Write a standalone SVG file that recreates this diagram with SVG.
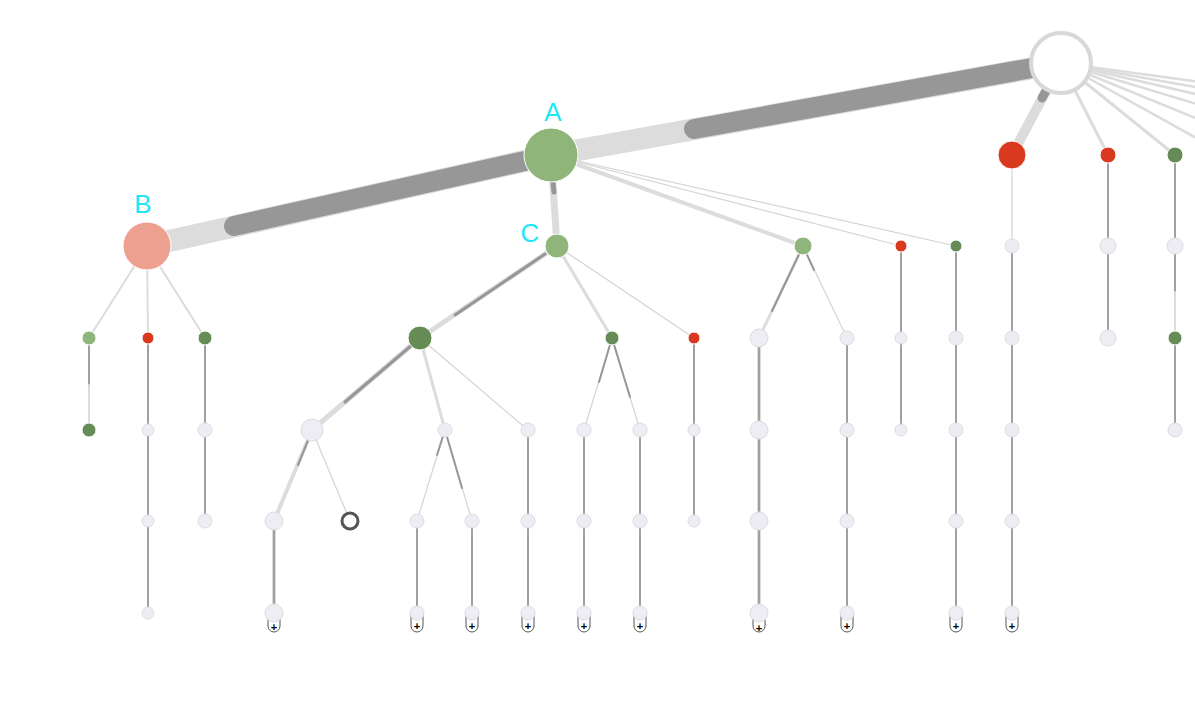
<svg xmlns="http://www.w3.org/2000/svg" width="1195" height="708" viewBox="0 0 1195 708">
<style>
.lt{stroke:#dcdcdc;fill:none;stroke-linecap:round}
.dk{stroke:#979797;fill:none;stroke-linecap:round}
.v{stroke:#a0a0a0;stroke-width:2;fill:none}
.th{stroke:#d4d4d4;stroke-width:1.2;fill:none}
.g{fill:#eeedf4;stroke:#dcdce4;stroke-width:1}
.lg{fill:#8fb57a;stroke:#fff;stroke-width:1}
.dg{fill:#668c55;stroke:#fff;stroke-width:1}
.rd{fill:#d9391f;stroke:#fff;stroke-width:1}
.pl{fill:#fff;stroke:#555;stroke-width:1}
.pt{font-family:"Liberation Sans",sans-serif;font-size:11px;font-weight:bold;fill:#000;text-anchor:middle}
.lab{font-family:"Liberation Sans",sans-serif;font-size:26px;fill:#1ee6f5;text-anchor:middle}
</style>
<g id="connectors">
<line class="lt" x1="1061" y1="63" x2="551" y2="155" stroke-width="22"/>
<line class="dk" x1="694" y1="129" x2="1032" y2="68" stroke-width="20"/>
<line class="lt" x1="551" y1="155" x2="147" y2="246" stroke-width="22"/>
<line class="dk" x1="234" y1="226" x2="525" y2="161" stroke-width="20"/>
<line class="lt" x1="1061" y1="63" x2="1012" y2="155" stroke-width="10"/>
<line class="dk" x1="1047" y1="89" x2="1042" y2="98" stroke-width="9"/>
<line class="lt" x1="1061" y1="63" x2="1108" y2="155" stroke-width="3"/>
<line class="lt" x1="1061" y1="63" x2="1175" y2="155" stroke-width="3"/>
<line class="lt" x1="1061" y1="63" x2="1200" y2="140" stroke-width="2.5"/>
<line class="lt" x1="1061" y1="63" x2="1200" y2="120" stroke-width="2.5"/>
<line class="lt" x1="1061" y1="63" x2="1200" y2="105" stroke-width="2.5"/>
<line class="lt" x1="1061" y1="63" x2="1200" y2="95" stroke-width="2.5"/>
<line class="lt" x1="1061" y1="63" x2="1200" y2="88" stroke-width="2.5"/>
<line class="lt" x1="1061" y1="63" x2="1200" y2="82" stroke-width="2.5"/>
<line class="lt" x1="551" y1="155" x2="557" y2="246" stroke-width="7"/>
<line class="dk" x1="553" y1="183" x2="554" y2="192" stroke-width="5"/>
<line class="lt" x1="551" y1="155" x2="803" y2="246" stroke-width="4"/>
<line class="th" x1="551" y1="155" x2="901" y2="246"/>
<line class="th" x1="551" y1="155" x2="956" y2="246"/>
<line class="lt" x1="147" y1="246" x2="89" y2="338" stroke-width="2"/>
<line class="lt" x1="147" y1="246" x2="148" y2="338" stroke-width="2"/>
<line class="lt" x1="147" y1="246" x2="205" y2="338" stroke-width="2"/>
<line class="v" x1="89" y1="338" x2="89" y2="385"/>
<line class="lt" x1="89" y1="385" x2="89" y2="430" stroke-width="2"/>
<line class="v" x1="148" y1="338" x2="148" y2="613"/>
<line class="v" x1="205" y1="338" x2="205" y2="521"/>
<line class="lt" x1="557" y1="246" x2="420" y2="338" stroke-width="5"/>
<line class="dk" x1="455" y1="315" x2="545" y2="254" stroke-width="3"/>
<line class="lt" x1="557" y1="246" x2="612" y2="338" stroke-width="3"/>
<line class="th" x1="557" y1="246" x2="694" y2="338"/>
<line class="lt" x1="420" y1="338" x2="312" y2="430" stroke-width="5"/>
<line class="dk" x1="345" y1="402" x2="412" y2="345" stroke-width="3"/>
<line class="lt" x1="420" y1="338" x2="445" y2="430" stroke-width="3"/>
<line class="th" x1="420" y1="338" x2="528" y2="430"/>
<line class="lt" x1="312" y1="430" x2="274" y2="521" stroke-width="4"/>
<line class="dk" x1="298" y1="465" x2="309" y2="438" stroke-width="2"/>
<line class="th" x1="312" y1="430" x2="350" y2="521" stroke="#bbb"/>
<line class="lt" x1="274" y1="521" x2="274" y2="613" stroke-width="4"/>
<line class="v" x1="274" y1="521" x2="274" y2="613"/>
<line class="th" x1="445" y1="430" x2="417" y2="521"/>
<line class="dk" x1="445" y1="430" x2="437" y2="455" stroke-width="2"/>
<line class="th" x1="445" y1="430" x2="472" y2="521"/>
<line class="dk" x1="445" y1="430" x2="462" y2="488" stroke-width="2"/>
<line class="v" x1="417" y1="521" x2="417" y2="613"/>
<line class="v" x1="472" y1="521" x2="472" y2="613"/>
<line class="v" x1="528" y1="430" x2="528" y2="613"/>
<line class="th" x1="612" y1="338" x2="584" y2="430"/>
<line class="dk" x1="612" y1="338" x2="599" y2="382" stroke-width="2"/>
<line class="th" x1="612" y1="338" x2="640" y2="430"/>
<line class="dk" x1="612" y1="338" x2="630" y2="397" stroke-width="2"/>
<line class="v" x1="584" y1="430" x2="584" y2="613"/>
<line class="v" x1="640" y1="430" x2="640" y2="613"/>
<line class="v" x1="694" y1="338" x2="694" y2="521"/>
<line class="lt" x1="803" y1="246" x2="759" y2="338" stroke-width="3"/>
<line class="dk" x1="803" y1="246" x2="772" y2="311" stroke-width="2"/>
<line class="th" x1="803" y1="246" x2="847" y2="338"/>
<line class="dk" x1="803" y1="246" x2="814" y2="270" stroke-width="2"/>
<line class="lt" x1="759" y1="338" x2="759" y2="613" stroke-width="4"/>
<line class="v" x1="759" y1="338" x2="759" y2="613"/>
<line class="v" x1="847" y1="338" x2="847" y2="613"/>
<line class="v" x1="901" y1="246" x2="901" y2="430"/>
<line class="v" x1="956" y1="246" x2="956" y2="613"/>
<line class="th" x1="1012" y1="155" x2="1012" y2="246"/>
<line class="v" x1="1012" y1="246" x2="1012" y2="613"/>
<line class="v" x1="1108" y1="155" x2="1108" y2="338"/>
<line class="v" x1="1175" y1="155" x2="1175" y2="292"/>
<line class="lt" x1="1175" y1="292" x2="1175" y2="338" stroke-width="2"/>
<line class="v" x1="1175" y1="338" x2="1175" y2="430"/>
</g>
<g id="badges">
<g id="b274"><path class="pl" d="M268 613 V626 a6 6 0 0 0 12 0 V613"/><text class="pt" x="274" y="631">+</text></g>
<g id="b417"><path class="pl" d="M411 613 V626 a6 6 0 0 0 12 0 V613"/><text class="pt" x="417" y="630">+</text></g>
<g id="b472"><path class="pl" d="M466 613 V626 a6 6 0 0 0 12 0 V613"/><text class="pt" x="472" y="630">+</text></g>
<g id="b528"><path class="pl" d="M522 613 V626 a6 6 0 0 0 12 0 V613"/><text class="pt" x="528" y="630">+</text></g>
<g id="b584"><path class="pl" d="M578 613 V626 a6 6 0 0 0 12 0 V613"/><text class="pt" x="584" y="630">+</text></g>
<g id="b640"><path class="pl" d="M634 613 V626 a6 6 0 0 0 12 0 V613"/><text class="pt" x="640" y="630">+</text></g>
<g id="b759"><path class="pl" d="M753 613 V626 a6 6 0 0 0 12 0 V613"/><text class="pt" x="759" y="632">+</text></g>
<g id="b847"><path class="pl" d="M841 613 V626 a6 6 0 0 0 12 0 V613"/><text class="pt" x="847" y="630">+</text></g>
<g id="b956"><path class="pl" d="M950 613 V626 a6 6 0 0 0 12 0 V613"/><text class="pt" x="956" y="630">+</text></g>
<g id="b1012"><path class="pl" d="M1006 613 V626 a6 6 0 0 0 12 0 V613"/><text class="pt" x="1012" y="630">+</text></g>
</g>
<g id="nodes">
<g id="root"><circle cx="1061" cy="63" r="30" fill="#fff" stroke="#d8d8d8" stroke-width="4"/></g>
<g id="A"><circle class="lg" cx="551" cy="155" r="27"/><text class="lab" x="553" y="121">A</text></g>
<g id="B"><circle cx="147" cy="246" r="24" fill="#eda090" stroke="#fff"/><text class="lab" x="143" y="213">B</text></g>
<g id="C"><circle class="lg" cx="557" cy="246" r="12"/><text class="lab" x="530" y="242">C</text></g>
<g id="n1012"><circle class="rd" cx="1012" cy="155" r="14"/></g>
<g id="n1108"><circle class="rd" cx="1108" cy="155" r="8"/></g>
<g id="n1175"><circle class="dg" cx="1175" cy="155" r="8"/></g>
<g id="n803"><circle class="lg" cx="803" cy="246" r="9"/></g>
<g id="n901"><circle class="rd" cx="901" cy="246" r="6"/></g>
<g id="n956"><circle class="dg" cx="956" cy="246" r="6"/></g>
<g id="n89a"><circle class="lg" cx="89" cy="338" r="7"/></g>
<g id="n148a"><circle class="rd" cx="148" cy="338" r="6"/></g>
<g id="n205a"><circle class="dg" cx="205" cy="338" r="7"/></g>
<g id="n89b"><circle class="dg" cx="89" cy="430" r="7"/></g>
<g id="n420"><circle class="dg" cx="420" cy="338" r="12"/></g>
<g id="n612"><circle class="dg" cx="612" cy="338" r="7"/></g>
<g id="n694"><circle class="rd" cx="694" cy="338" r="6"/></g>
<g id="n1175c"><circle class="dg" cx="1175" cy="338" r="7"/></g>
<g id="n350"><circle cx="350" cy="521" r="8" fill="#fff" stroke="#555" stroke-width="3"/></g>
<g id="greys">
<circle class="g" cx="148" cy="430" r="6"/><circle class="g" cx="148" cy="521" r="6"/><circle class="g" cx="148" cy="613" r="6"/>
<circle class="g" cx="205" cy="430" r="7"/><circle class="g" cx="205" cy="521" r="7"/>
<circle class="g" cx="312" cy="430" r="11"/><circle class="g" cx="445" cy="430" r="7"/><circle class="g" cx="528" cy="430" r="7"/>
<circle class="g" cx="274" cy="521" r="9"/><circle class="g" cx="274" cy="613" r="9"/>
<circle class="g" cx="417" cy="521" r="7"/><circle class="g" cx="417" cy="613" r="7"/>
<circle class="g" cx="472" cy="521" r="7"/><circle class="g" cx="472" cy="613" r="7"/>
<circle class="g" cx="528" cy="521" r="7"/><circle class="g" cx="528" cy="613" r="7"/>
<circle class="g" cx="584" cy="430" r="7"/><circle class="g" cx="584" cy="521" r="7"/><circle class="g" cx="584" cy="613" r="7"/>
<circle class="g" cx="640" cy="430" r="7"/><circle class="g" cx="640" cy="521" r="7"/><circle class="g" cx="640" cy="613" r="7"/>
<circle class="g" cx="694" cy="430" r="6"/><circle class="g" cx="694" cy="521" r="6"/>
<circle class="g" cx="759" cy="338" r="9"/><circle class="g" cx="759" cy="430" r="9"/><circle class="g" cx="759" cy="521" r="9"/><circle class="g" cx="759" cy="613" r="9"/>
<circle class="g" cx="847" cy="338" r="7"/><circle class="g" cx="847" cy="430" r="7"/><circle class="g" cx="847" cy="521" r="7"/><circle class="g" cx="847" cy="613" r="7"/>
<circle class="g" cx="901" cy="338" r="6"/><circle class="g" cx="901" cy="430" r="6"/>
<circle class="g" cx="956" cy="338" r="7"/><circle class="g" cx="956" cy="430" r="7"/><circle class="g" cx="956" cy="521" r="7"/><circle class="g" cx="956" cy="613" r="7"/>
<circle class="g" cx="1012" cy="246" r="7"/><circle class="g" cx="1012" cy="338" r="7"/><circle class="g" cx="1012" cy="430" r="7"/><circle class="g" cx="1012" cy="521" r="7"/><circle class="g" cx="1012" cy="613" r="7"/>
<circle class="g" cx="1108" cy="246" r="8"/><circle class="g" cx="1108" cy="338" r="8"/>
<circle class="g" cx="1175" cy="246" r="8"/><circle class="g" cx="1175" cy="430" r="7"/>
</g>
</g>
</svg>
